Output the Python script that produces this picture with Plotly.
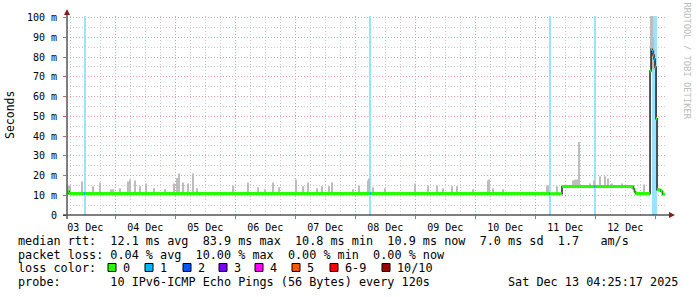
import pandas as pd
import plotly.graph_objects as go

# ---------------- data ----------------
X_START = "2025-12-03 04:40"
X_END = "2025-12-13 04:40"
Y_MAX = 100.8

# median rtt (ms), step series: each value holds until the next timestamp
median_time = [
    "2025-12-03 04:40", "2025-12-03 05:30", "2025-12-03 11:30", "2025-12-03 11:54",
    "2025-12-08 05:50", "2025-12-08 06:14",
    "2025-12-11 05:30", "2025-12-11 05:54", "2025-12-11 10:40",
    "2025-12-11 23:30", "2025-12-11 23:54",
    "2025-12-12 15:15", "2025-12-12 15:40", "2025-12-12 16:05",
    "2025-12-12 21:53", "2025-12-12 22:17", "2025-12-12 22:41", "2025-12-12 23:05",
    "2025-12-12 23:29", "2025-12-12 23:53", "2025-12-13 00:17", "2025-12-13 00:41",
    "2025-12-13 02:05", "2025-12-13 02:53",
]
median_ms = [
    11.9, 10.9, 10.9, 10.9,
    10.9, 10.9,
    10.8, 10.8, 14.4,
    14.4, 14.4,
    13.2, 11.8, 10.9,
    73.0, 84.0, 83.0, 81.0,
    79.0, 75.0, 48.7, 12.8,
    12.0, 10.5,
]
median_loss = [
    0, 0, 1, 0,
    1, 0,
    1, 0, 0,
    1, 0,
    0, 0, 0,
    0, 0, 1, 1,
    1, 1, 0, 0,
    0, 0,
]
MEDIAN_END = "2025-12-13 03:53"

# smoke (spread of the individual pings), ms
smoke_time = [
    "2025-12-03 05:05", "2025-12-03 05:53", "2025-12-03 10:41", "2025-12-03 15:05",
    "2025-12-03 17:53", "2025-12-03 22:17", "2025-12-03 23:05", "2025-12-04 01:53",
    "2025-12-04 05:05", "2025-12-04 05:53", "2025-12-04 07:53", "2025-12-04 09:53",
    "2025-12-04 12:17", "2025-12-04 15:29", "2025-12-04 19:53", "2025-12-04 23:29",
    "2025-12-05 00:41", "2025-12-05 01:29", "2025-12-05 03:05", "2025-12-05 05:05",
    "2025-12-05 07:05", "2025-12-05 08:41", "2025-12-05 23:05", "2025-12-06 05:05",
    "2025-12-06 09:05", "2025-12-06 11:53", "2025-12-06 15:05", "2025-12-06 17:29",
    "2025-12-07 00:17", "2025-12-07 03:05", "2025-12-07 05:05", "2025-12-07 08:41",
    "2025-12-07 10:41", "2025-12-07 13:29", "2025-12-07 14:41", "2025-12-07 23:05",
    "2025-12-08 01:29", "2025-12-08 05:05", "2025-12-08 05:29", "2025-12-08 07:05",
    "2025-12-08 11:53", "2025-12-08 23:53", "2025-12-09 05:05", "2025-12-09 08:41",
    "2025-12-09 11:05", "2025-12-09 14:41", "2025-12-09 16:41", "2025-12-09 23:05",
    "2025-12-10 05:05", "2025-12-10 05:29", "2025-12-10 07:05", "2025-12-10 11:05",
    "2025-12-11 04:41", "2025-12-11 05:05", "2025-12-11 08:41", "2025-12-11 15:05",
    "2025-12-11 15:53", "2025-12-11 16:41", "2025-12-11 17:29", "2025-12-11 21:53",
    "2025-12-11 23:29", "2025-12-12 01:53", "2025-12-12 03:53", "2025-12-12 05:05",
    "2025-12-12 06:41", "2025-12-12 10:41", "2025-12-12 14:41", "2025-12-12 19:29",
    "2025-12-12 22:17", "2025-12-12 22:41", "2025-12-12 23:05", "2025-12-12 23:29",
]
smoke_low = [
    10.3, 10.3, 10.3, 10.3, 10.3, 10.3, 10.3, 10.3,
    10.3, 10.3, 10.3, 10.3, 10.3, 10.3, 10.3, 10.3,
    10.3, 10.3, 10.3, 10.3, 10.3, 10.3, 10.3, 10.3,
    10.3, 10.3, 10.3, 10.3, 10.3, 10.3, 10.3, 10.3,
    10.3, 10.3, 10.3, 10.3, 10.3, 10.3, 10.3, 10.3,
    10.3, 10.3, 10.3, 10.3, 10.3, 10.3, 10.3, 10.3,
    10.3, 10.3, 10.3, 10.3, 10.3, 10.3, 10.3, 13.5,
    13.5, 13.5, 13.5, 13.5, 13.5, 13.5, 13.5, 13.5,
    13.5, 13.5, 13.5, 10.3, 84.0, 74.0, 74.0, 74.0,
]
smoke_high = [
    15.0, 15.0, 17.0, 14.5, 16.5, 13.0, 13.0, 13.5,
    17.0, 18.0, 17.5, 14.5, 16.0, 13.5, 13.0, 16.0,
    18.7, 21.0, 16.5, 16.0, 21.0, 13.5, 15.0, 16.5,
    14.0, 13.0, 16.5, 14.0, 18.0, 14.5, 16.5, 13.5,
    14.5, 14.5, 16.5, 13.0, 15.0, 17.5, 18.5, 14.0,
    13.5, 16.0, 15.0, 15.0, 13.5, 14.5, 14.5, 13.0,
    17.5, 18.0, 13.5, 13.0, 15.0, 15.0, 14.5, 17.5,
    18.0, 18.0, 37.0, 16.0, 17.5, 19.6, 19.6, 18.5,
    16.0, 16.0, 14.0, 15.5, 100.8, 100.8, 90.0, 84.0,
]

ytick_vals = [0, 10, 20, 30, 40, 50, 60, 70, 80, 90, 100]
ytick_text = ["0", "10 m", "20 m", "30 m", "40 m", "50 m", "60 m", "70 m", "80 m", "90 m", "100 m"]
yminor_vals = [5, 15, 25, 35, 45, 55, 65, 75, 85, 95]

loss_labels = ["0", "1", "2", "3", "4", "5", "6-9", "10/10"]
loss_colors = ["#26ff00", "#00b8ff", "#0059ff", "#7e00ff", "#ff00ff", "#ff5500", "#ff0000", "#a10000"]
loss_bg_colors = ["#a8ff99", "#99e3ff", "#99bdff", "#cb99ff", "#ff99ff", "#ffbb99", "#ff9999", "#d99999"]

stat_line1 = "median rtt:  12.1 ms avg  83.9 ms max  10.8 ms min  10.9 ms now  7.0 ms sd  1.7   am/s"
stat_line2 = "packet loss: 0.04 % avg  10.00 % max  0.00 % min  0.00 % now"
stat_line3 = "loss color:"
stat_line4 = "probe:       10 IPv6-ICMP Echo Pings (56 Bytes) every 120s"
stamp_text = "Sat Dec 13 04:25:17 2025"
y_title = "Seconds"
watermark = "RRDTOOL / TOBI OETIKER"

# ---------------- layout geometry (pixels) ----------------
W, H = 697, 297
PL, PR, PT, PB = 67, 667, 14, 215
STEP_MS = 24 * 60 * 1000  # one rrd step (one pixel)


def px(x):
    return (x - PL) / (PR - PL)


def py(y):
    return (PB - y) / (PB - PT)


def loss_idx(n):
    if n <= 5:
        return n
    if n < 10:
        return 6
    return 7


def nb(s):
    return s.replace(" ", "\u00a0")


mono = "DejaVu Sans Mono"
mt = list(pd.to_datetime(median_time + [MEDIAN_END]))

fig = go.Figure()

# loss background bars
lx, lw, lc = [], [], []
for i, n in enumerate(median_loss):
    if n > 0:
        d = mt[i + 1] - mt[i]
        lx.append(mt[i] + d / 2)
        lw.append(d.total_seconds() * 1000)
        lc.append(loss_bg_colors[loss_idx(n)])
fig.add_trace(go.Bar(x=lx, y=[Y_MAX] * len(lx), base=0, width=lw,
                     marker=dict(color=lc, line=dict(width=0)), hoverinfo="skip"))

# smoke
st = pd.to_datetime(smoke_time)
fig.add_trace(go.Bar(x=st, y=[h - l for h, l in zip(smoke_high, smoke_low)], base=smoke_low,
                     width=[STEP_MS] * len(st),
                     marker=dict(color="#bdbdbd", line=dict(width=0)), hoverinfo="skip"))

# median connecting line (black)
fig.add_trace(go.Scatter(x=mt, y=median_ms + [median_ms[-1]], mode="lines",
                         line=dict(color="#202020", width=1.5, shape="hv"), hoverinfo="skip"))

# median coloured by loss
for k, col in enumerate(loss_colors):
    xs, ys = [], []
    for i, v in enumerate(median_ms):
        if loss_idx(median_loss[i]) == k:
            xs += [mt[i], mt[i + 1], None]
            ys += [v, v, None]
    if xs:
        fig.add_trace(go.Scatter(x=xs, y=ys, mode="lines",
                                 line=dict(color=col, width=3), hoverinfo="skip"))

red_grid = "#eaa0a0"
grey_grid = "#cccccc"

fig.update_layout(
    width=W, height=H,
    margin=dict(l=PL, r=W - PR, t=PT, b=H - PB),
    paper_bgcolor="white", plot_bgcolor="white",
    showlegend=False, barmode="overlay",
    font=dict(family=mono, size=10, color="#000"),
    xaxis=dict(
        type="date", range=[X_START, X_END],
        tick0="2025-12-03", dtick=86400000, tickformat="%d %b", ticklabelmode="period",
        showgrid=True, gridcolor=red_grid, griddash="1px,2px", gridwidth=1,
        ticks="outside", ticklen=3, tickcolor="#d06060",
        minor=dict(tick0="2025-12-03", dtick=21600000, showgrid=True,
                   gridcolor=grey_grid, griddash="1px,2px", ticks=""),
        showline=False, zeroline=False,
        tickfont=dict(family=mono, size=10, color="#000"),
    ),
    yaxis=dict(
        range=[0, Y_MAX], tickmode="array", tickvals=ytick_vals, ticktext=ytick_text,
        showgrid=True, gridcolor=red_grid, griddash="1px,2px", gridwidth=1,
        ticks="outside", ticklen=3, tickcolor="#d06060", ticklabelstandoff=4,
        minor=dict(tickmode="array", tickvals=yminor_vals, showgrid=True,
                   gridcolor=grey_grid, griddash="1px,2px", ticks=""),
        showline=False, zeroline=False,
        tickfont=dict(family=mono, size=10, color="#000"),
    ),
)

shapes = []
# axes
shapes.append(dict(type="line", xref="paper", yref="paper", x0=px(63), x1=px(670), y0=0, y1=0,
                   line=dict(color="#000", width=1)))
shapes.append(dict(type="line", xref="paper", yref="paper", x0=0, x1=0, y0=py(219), y1=py(11),
                   line=dict(color="#555", width=1.5)))
# arrows
shapes.append(dict(type="path", xref="paper", yref="paper",
                   path=f"M {px(669)} {py(212)} L {px(675)} {py(215)} L {px(669)} {py(218)} Z",
                   fillcolor="#8b1a1a", line=dict(width=0)))
shapes.append(dict(type="path", xref="paper", yref="paper",
                   path=f"M {px(64)} {py(13)} L {px(67)} {py(7)} L {px(70)} {py(13)} Z",
                   fillcolor="#8b1a1a", line=dict(width=0)))
# loss colour legend squares
sq_left = [108, 145, 183, 219, 255, 292, 330, 382]
for xl, col in zip(sq_left, loss_colors):
    shapes.append(dict(type="rect", xref="paper", yref="paper",
                       x0=px(xl), x1=px(xl + 8), y0=py(272), y1=py(264),
                       fillcolor=col, line=dict(color="#000", width=1)))
fig.update_layout(shapes=shapes)

ann = []
text_font = dict(family=mono, size=11.8, color="#000")
for txt, yy in [(stat_line1, 241), (stat_line2, 255), (stat_line3, 269), (stat_line4, 283)]:
    ann.append(dict(text=nb(txt), xref="paper", yref="paper", x=px(16), y=py(yy),
                    xanchor="left", yanchor="middle", showarrow=False, font=text_font))
for xl, lab in zip(sq_left, loss_labels):
    ann.append(dict(text=nb(lab), xref="paper", yref="paper", x=px(xl + 13), y=py(269),
                    xanchor="left", yanchor="middle", showarrow=False, font=text_font))
ann.append(dict(text=nb(stamp_text), xref="paper", yref="paper", x=px(680), y=py(283),
                xanchor="right", yanchor="middle", showarrow=False, font=text_font))
ann.append(dict(text=y_title, xref="paper", yref="paper", x=px(10), y=py(114),
                xanchor="center", yanchor="middle", textangle=-90, showarrow=False,
                font=dict(family=mono, size=11.5, color="#000")))
ann.append(dict(text=nb(watermark), xref="paper", yref="paper", x=px(687), y=py(59),
                xanchor="center", yanchor="middle", textangle=90, showarrow=False,
                font=dict(family=mono, size=8.8, color="#bcbcbc")))
fig.update_layout(annotations=ann)

fig.write_html("out.html")
